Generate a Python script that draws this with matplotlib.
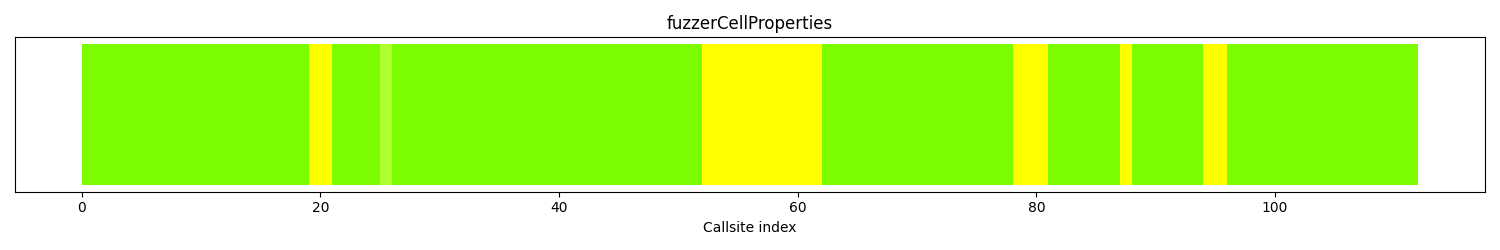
import numpy as np
import matplotlib.pyplot as plt

# run-length data: colour of each run of callsites and how many callsites it covers
run_colors = ['lawngreen', 'yellow', 'lawngreen', 'greenyellow', 'lawngreen', 'yellow',
              'lawngreen', 'yellow', 'lawngreen', 'yellow', 'lawngreen', 'yellow', 'lawngreen']
run_lengths = [19, 2, 4, 1, 26, 10, 16, 3, 6, 1, 6, 2, 16]

#expand to one colour per callsite
colors = []
for c, n in zip(run_colors, run_lengths):
    colors += [c] * n
idx = np.arange(len(colors))

fig, ax = plt.subplots(figsize=(15, 2.5))
ax.bar(idx, 1, width=1, align='edge', color=colors)
ax.use_sticky_edges = False
ax.set_title('fuzzerCellProperties')
ax.set_xlabel('Callsite index')
ax.set_yticks([])
plt.tight_layout()
plt.savefig('out.png', dpi=100)
